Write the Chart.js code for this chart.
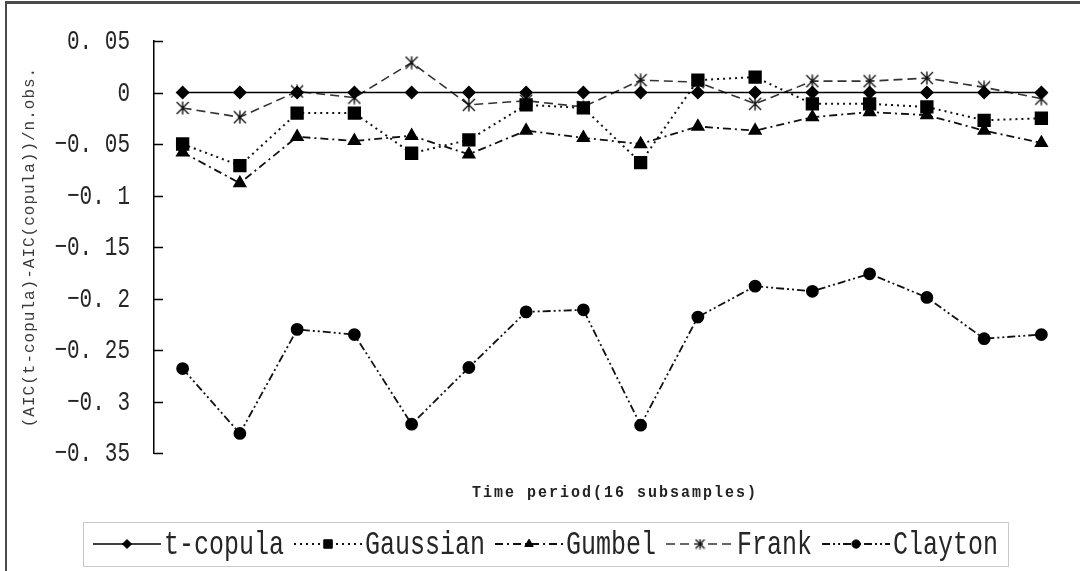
<!DOCTYPE html>
<html>
<head>
<meta charset="utf-8">
<script src="https://cdn.jsdelivr.net/npm/chart.js@4.4.1/dist/chart.umd.min.js"></script>
<style>
    html, body { margin: 0; padding: 0; background: #fff; }
    #wrap { position: relative; width: 1080px; height: 571px; overflow: hidden; }
    #chart { position: absolute; left: 0; top: 0; }
    #frame {
        position: absolute; left: 5px; top: 1px; right: 0; bottom: 0;
        border-top: 3px solid #4a4a4a; border-left: 2px solid #4a4a4a;
        pointer-events: none;
    }
</style>
</head>
<body>
<div id="wrap">
    <canvas id="chart" width="1080" height="571"></canvas>
    <div id="frame"></div>
</div>
<script>
// 16 subsamples (category labels are not printed on the chart)
const periods = ['1', '2', '3', '4', '5', '6', '7', '8', '9', '10', '11', '12', '13', '14', '15', '16'];

const tCopula  = [0, 0, 0, 0, 0, 0, 0, 0, 0, 0, 0, 0, 0, 0, 0, 0];
const gaussian = [-0.050, -0.071, -0.020, -0.020, -0.059, -0.046, -0.012, -0.015, -0.068, 0.012, 0.015, -0.011, -0.011, -0.014, -0.027, -0.025];
const gumbel   = [-0.058, -0.088, -0.043, -0.047, -0.042, -0.060, -0.037, -0.044, -0.050, -0.033, -0.037, -0.024, -0.019, -0.022, -0.037, -0.049];
const frank    = [-0.015, -0.024, 0.001, -0.005, 0.029, -0.012, -0.008, -0.014, 0.012, 0.010, -0.011, 0.011, 0.011, 0.014, 0.005, -0.006];
const clayton  = [-0.268, -0.331, -0.230, -0.235, -0.322, -0.267, -0.213, -0.211, -0.323, -0.218, -0.188, -0.193, -0.176, -0.199, -0.239, -0.235];

const yTicks      = [0.05, 0, -0.05, -0.1, -0.15, -0.2, -0.25, -0.3, -0.35];
const yTickLabels = ['0. 05', '0', '\u22120. 05', '\u22120. 1', '\u22120. 15', '\u22120. 2', '\u22120. 25', '\u22120. 3', '\u22120. 35'];

const yTitle = '(AIC(t-copula)-AIC(copula))/n.obs.';
const xTitle = 'Time period(16 subsamples)';

const INK = '#111';

// Excel-style asterisk marker: an X with a vertical stroke
function makeAsterisk(size) {
    const c = document.createElement('canvas');
    c.width = size;
    c.height = size;
    const g = c.getContext('2d');
    const m = size / 2, r = size / 2 - 1;
    g.strokeStyle = '#111';
    g.lineWidth = 1.4;
    g.beginPath();
    g.moveTo(m - r, m - r); g.lineTo(m + r, m + r);
    g.moveTo(m + r, m - r); g.lineTo(m - r, m + r);
    g.moveTo(m, m - r - 0.5); g.lineTo(m, m + r + 0.5);
    g.stroke();
    return c;
}
const asteriskBig = makeAsterisk(14);
const asteriskSmall = makeAsterisk(11);

// draws text slightly stretched vertically, like the narrow SimSun latin glyphs
function drawText(ctx, text, x, y, opts) {
    ctx.save();
    ctx.font = opts.font;
    ctx.fillStyle = opts.color || INK;
    ctx.textAlign = opts.align || 'left';
    ctx.textBaseline = 'middle';
    if (opts.spacing) ctx.letterSpacing = opts.spacing + 'px';
    ctx.translate(x, y);
    if (opts.rotate) ctx.rotate(opts.rotate);
    ctx.scale(1, opts.stretch || 1);
    ctx.fillText(text, 0, 0);
    ctx.restore();
}

const decorations = {
    id: 'decorations',
    afterDraw(chart) {
        const ctx = chart.ctx;
        const y = chart.scales.y;
        const area = chart.chartArea;

        // inner tick marks and tick labels
        ctx.save();
        ctx.strokeStyle = '#000';
        ctx.lineWidth = 1.5;
        y.ticks.forEach(t => {
            const py = Math.round(y.getPixelForValue(t.value)) + 0.5;
            ctx.beginPath();
            ctx.moveTo(area.left, py);
            ctx.lineTo(area.left + 9, py);
            ctx.stroke();
            drawText(ctx, t.label, 130, py, {font: '21px "Liberation Mono"', align: 'right', stretch: 1.3, color: '#262626'});
        });
        ctx.restore();

        // axis titles
        drawText(ctx, yTitle, 30, 247, {font: '16px "Liberation Mono"', align: 'center', rotate: -Math.PI / 2, spacing: 1, color: '#3a3a3a'});
        drawText(ctx, xTitle, 615, 493, {font: 'bold 15px "Liberation Mono"', align: 'center', spacing: 2, stretch: 1.05, color: '#222'});

        // legend
        const sample = 68, ly = 544;
        let x = 93;
        ctx.save();
        ctx.strokeStyle = '#c8c8c8';
        ctx.lineWidth = 1;
        ctx.strokeRect(83.5, 522.5, 925, 44);
        ctx.restore();
        chart.data.datasets.forEach(ds => {
            ctx.save();
            ctx.strokeStyle = ds.borderColor;
            ctx.lineWidth = ds.borderWidth;
            ctx.setLineDash(ds.borderDash || []);
            ctx.beginPath();
            ctx.moveTo(x, ly);
            ctx.lineTo(x + sample, ly);
            ctx.stroke();
            ctx.restore();

            ctx.save();
            ctx.fillStyle = ds.pointBackgroundColor;
            ctx.strokeStyle = ds.pointBorderColor;
            ctx.lineWidth = 1;
            Chart.helpers.drawPoint(ctx, {
                pointStyle: ds.legendPoint || ds.pointStyle,
                rotation: 0,
                radius: ds.pointRadius * 0.75,
                borderWidth: 1
            }, x + sample / 2, ly);
            ctx.restore();

            ctx.font = '25px "Liberation Mono"';
            const w = ctx.measureText(ds.label).width;
            drawText(ctx, ds.label, x + sample + 3, ly + 1, {font: '25px "Liberation Mono"', stretch: 1.3, color: '#262626'});
            x += sample + 3 + w + 10;
        });
    }
};

new Chart(document.getElementById('chart').getContext('2d'), {
    type: 'line',
    data: {
        labels: periods,
        datasets: [
            {
                label: 't-copula', data: tCopula,
                borderColor: '#000', borderWidth: 1.5,
                pointStyle: 'rectRot', pointRadius: 6,
                pointBackgroundColor: '#000', pointBorderColor: '#000'
            },
            {
                label: 'Gaussian', data: gaussian,
                borderColor: '#111', borderWidth: 2, borderDash: [2, 4],
                pointStyle: 'rect', pointRadius: 8,
                pointBackgroundColor: '#000', pointBorderColor: '#000'
            },
            {
                label: 'Gumbel', data: gumbel,
                borderColor: '#111', borderWidth: 1.8, borderDash: [8, 4, 2, 4],
                pointStyle: 'triangle', pointRadius: 6.5,
                pointBackgroundColor: '#000', pointBorderColor: '#000'
            },
            {
                label: 'Frank', data: frank,
                borderColor: '#333', borderWidth: 1.6, borderDash: [9, 5],
                pointStyle: asteriskBig, legendPoint: asteriskSmall, pointRadius: 7,
                pointBackgroundColor: '#222', pointBorderColor: '#222'
            },
            {
                label: 'Clayton', data: clayton,
                borderColor: '#111', borderWidth: 1.8, borderDash: [8, 3, 2, 3, 2, 3],
                pointStyle: 'circle', pointRadius: 5.5,
                pointBackgroundColor: '#000', pointBorderColor: '#000'
            }
        ]
    },
    options: {
        responsive: false,
        animation: false,
        events: [],
        layout: {
            padding: {left: 0, right: 5, top: 41, bottom: 118}
        },
        elements: {
            line: {tension: 0, fill: false}
        },
        plugins: {
            legend: {display: false},
            tooltip: {enabled: false}
        },
        scales: {
            x: {
                display: false,
                offset: true
            },
            y: {
                min: -0.35,
                max: 0.05,
                afterBuildTicks: scale => {
                    scale.ticks = yTicks.map(v => ({value: v}));
                },
                afterFit: scale => {
                    scale.width = 154;
                },
                ticks: {
                    display: false,
                    callback: value => yTickLabels[yTicks.findIndex(v => Math.abs(v - value) < 1e-9)]
                },
                grid: {display: false},
                border: {display: true, color: '#000', width: 1.5}
            }
        }
    },
    plugins: [decorations]
});
</script>
</body>
</html>
